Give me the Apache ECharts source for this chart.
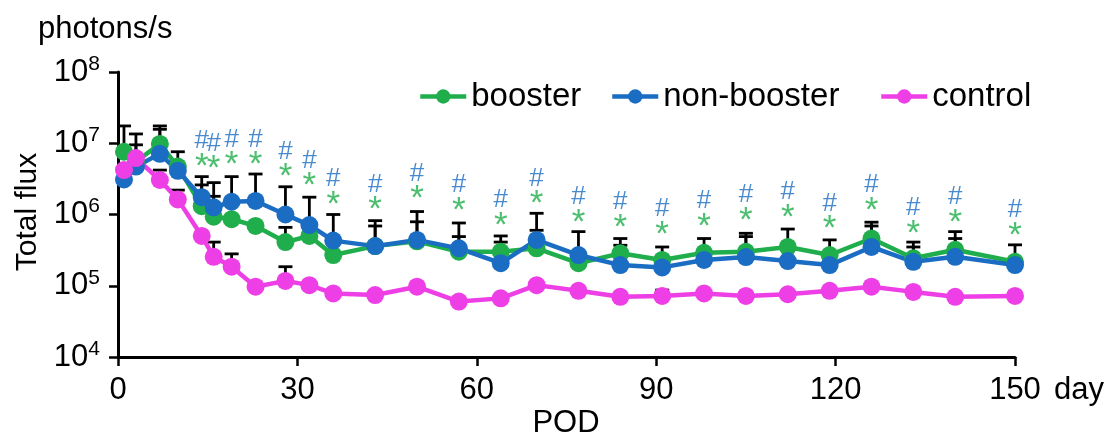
<!DOCTYPE html>
<html>
<head>
<meta charset="utf-8">
<script src="https://cdn.jsdelivr.net/npm/echarts@6/dist/echarts.min.js"></script>
<style>
  html, body { margin: 0; padding: 0; background: #fff; }
  #chart { width: 1111px; height: 436px; }
</style>
</head>
<body>
<div id="chart"></div>
<script>
// days after operation (POD)
let days = [1, 3, 7, 10, 14, 16, 19, 23, 28, 32, 36, 43, 50, 57, 64, 70, 77, 84, 91, 98, 105, 112, 119, 126, 133, 140, 150];

let booster = [7.6e6, 5.5e6, 9.8e6, 4.7e6, 1.31e6, 9.3e5, 8.6e5, 6.9e5, 4.1e5, 5.0e5, 2.7e5, 3.6e5, 4.2e5, 3.0e5, 3.0e5, 3.35e5, 2.07e5, 2.85e5, 2.3e5, 2.9e5, 3.0e5, 3.5e5, 2.7e5, 4.6e5, 2.43e5, 3.2e5, 2.17e5];
let nonBooster = [3.1e6, 4.7e6, 7.1e6, 4.1e6, 1.75e6, 1.26e6, 1.51e6, 1.55e6, 1.0e6, 7.1e5, 4.3e5, 3.6e5, 4.4e5, 3.35e5, 2.07e5, 4.4e5, 2.7e5, 1.95e5, 1.81e5, 2.3e5, 2.53e5, 2.22e5, 1.95e5, 3.5e5, 2.17e5, 2.55e5, 1.95e5];
let control = [4.2e6, 6.2e6, 3.05e6, 1.63e6, 5.0e5, 2.55e5, 1.85e5, 9.7e4, 1.17e5, 1.02e5, 7.8e4, 7.4e4, 9.7e4, 6.0e4, 6.65e4, 1.02e5, 8.5e4, 7.0e4, 7.2e4, 7.8e4, 7.2e4, 7.6e4, 8.5e4, 9.7e4, 8.2e4, 7.0e4, 7.2e4];

// top of the upper error bar (null = not visible)
let boosterTop = [1.75e7, 1.35e7, 1.75e7, null, 2.6e6, 1.8e6, null, null, 6.6e5, null, null, 6.9e5, 7.9e5, 4.9e5, 5.0e5, 6.0e5, null, 4.6e5, 3.5e5, 4.6e5, 5.45e5, 6.25e5, 4.4e5, 7.8e5, 4.1e5, 5.75e5, 3.75e5];
let nonBoosterTop = [null, 9.5e6, 1.57e7, 7.6e6, 3.4e6, 2.8e6, 3.4e6, 3.7e6, 2.45e6, 1.75e6, 1.0e6, 8.2e5, 1.1e6, 7.6e5, 4.1e5, 1.04e6, 5.75e5, 3.7e5, null, null, 4.9e5, null, null, 6.9e5, 3.5e5, 4.6e5, null];
let controlTop = [null, null, 4.2e6, 2.2e6, null, 4.1e5, 2.8e5, null, 1.85e5, null, null, null, null, null, null, null, null, null, 8.7e4, null, null, null, null, null, null, null, null];

// significance marks (# vs non-booster, * vs booster), placed at the "*" level
let sigDays = [14, 16, 19, 23, 28, 32, 36, 43, 50, 57, 64, 70, 77, 84, 91, 98, 105, 112, 119, 126, 133, 140, 150];
let sigLevel = [5.96e6, 5.5e6, 6.3e6, 6.3e6, 4.3e6, 3.2e6, 1.75e6, 1.47e6, 2.1e6, 1.44e6, 8.9e5, 1.78e6, 9.8e5, 8.4e5, 6.7e5, 8.6e5, 1.04e6, 1.16e6, 7.9e5, 1.44e6, 6.9e5, 9.8e5, 6.4e5];

let xTicks = [0, 30, 60, 90, 120, 150];

let green = '#1fae4b';
let blue = '#1a6dc2';
let pink = '#ee3ee6';
let font = 'Liberation Sans, Arial, sans-serif';

function pairs(vals) {
    return days.map((d, i) => [d, vals[i]]);
}

function errData(vals, tops) {
    let out = [];
    days.forEach((d, i) => {
        if (tops[i] != null) out.push([d, vals[i], tops[i]]);
    });
    return out;
}

function errorSeries(name, vals, tops) {
    return {
        name: name,
        type: 'custom',
        silent: true,
        z: 1,
        data: errData(vals, tops),
        encode: { x: 0, y: [1, 2] },
        renderItem: function (params, api) {
            let p0 = api.coord([api.value(0), api.value(1)]);
            let p1 = api.coord([api.value(0), api.value(2)]);
            let w = 7;
            let st = { stroke: '#000', lineWidth: 2.8 };
            return {
                type: 'group',
                children: [
                    { type: 'line', shape: { x1: p0[0], y1: p0[1], x2: p1[0], y2: p1[1] }, style: st },
                    { type: 'line', shape: { x1: p1[0] - w, y1: p1[1], x2: p1[0] + w, y2: p1[1] }, style: st }
                ]
            };
        }
    };
}

function lineSeries(name, vals, color) {
    return {
        name: name,
        type: 'line',
        z: 3,
        data: pairs(vals),
        symbol: 'circle',
        symbolSize: 18,
        lineStyle: { color: color, width: 4.5 },
        itemStyle: { color: color },
        emphasis: { disabled: true }
    };
}

function legendFor(name, left) {
    return {
        data: [name],
        left: left,
        top: 75,
        itemWidth: 46,
        itemHeight: 18,
        itemGap: 6,
        selectedMode: false,
        lineStyle: { width: 4.5 },
        textStyle: { fontFamily: font, fontSize: 33, color: '#000' }
    };
}

let option = {
    animation: false,
    backgroundColor: '#fff',
    grid: { left: 118, right: 96, top: 72, bottom: 79 },
    legend: [
        legendFor('booster', 413),
        legendFor('non-booster', 605),
        legendFor('control', 874)
    ],
    xAxis: {
        type: 'value',
        min: 0,
        max: 150,
        interval: 30,
        axisLine: { show: true, onZero: false, lineStyle: { color: '#000', width: 3 } },
        axisTick: { show: true, length: 9, lineStyle: { color: '#000', width: 2.5 } },
        splitLine: { show: false },
        axisLabel: {
            margin: 18,
            fontFamily: font,
            fontSize: 31,
            color: '#000',
            customValues: xTicks
        }
    },
    yAxis: {
        type: 'log',
        logBase: 10,
        min: 1e4,
        max: 1e8,
        axisLine: { show: true, lineStyle: { color: '#000', width: 3 } },
        axisTick: { show: true, length: 9, lineStyle: { color: '#000', width: 2.5 } },
        splitLine: { show: false },
        axisLabel: {
            margin: 18,
            color: '#000',
            formatter: function (v) {
                return '{b|10}{s|' + Math.round(Math.log10(v)) + '}';
            },
            rich: {
                b: { fontFamily: font, fontSize: 31, color: '#000' },
                s: { fontFamily: font, fontSize: 21, color: '#000', padding: [0, 0, 16, 0] }
            }
        }
    },
    graphic: [
        { type: 'text', left: 38, top: 14, style: { text: 'photons/s', fontFamily: font, fontSize: 31, fill: '#000' } },
        { type: 'text', x: 28, y: 212, rotation: Math.PI / 2,
          style: { text: 'Total flux', fontFamily: font, fontSize: 30, fill: '#000', align: 'center', verticalAlign: 'middle' } },
        { type: 'text', x: 566, y: 423, style: { text: 'POD', fontFamily: font, fontSize: 31, fill: '#000', align: 'center', verticalAlign: 'middle' } },
        { type: 'text', x: 1054, y: 390, style: { text: 'day', fontFamily: font, fontSize: 31, fill: '#000', align: 'left', verticalAlign: 'middle' } }
    ],
    series: [
        errorSeries('booster-err', booster, boosterTop),
        errorSeries('non-booster-err', nonBooster, nonBoosterTop),
        errorSeries('control-err', control, controlTop),
        lineSeries('booster', booster, green),
        lineSeries('non-booster', nonBooster, blue),
        lineSeries('control', control, pink),
        {
            name: 'sig',
            type: 'scatter',
            silent: true,
            z: 4,
            symbolSize: 0,
            data: sigDays.map((d, i) => [d, sigLevel[i]]),
            label: {
                show: true,
                position: 'inside',
                formatter: '{h|#}\n{s|*}',
                rich: {
                    h: { fontFamily: font, fontSize: 26, color: blue, lineHeight: 16 },
                    s: { fontFamily: font, fontSize: 35, color: green, lineHeight: 36 }
                }
            }
        }
    ]
};

let chart = echarts.init(document.getElementById('chart'));
chart.setOption(option);
</script>
</body>
</html>
